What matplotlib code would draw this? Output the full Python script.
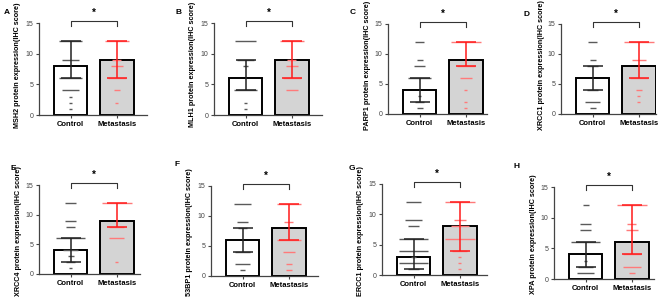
import matplotlib.pyplot as plt

plt.rcParams['font.family'] = ['Liberation Sans', 'DejaVu Sans']

# Data (IHC scores)
genes = ['MSH2', 'MLH1', 'PARP1', 'XRCC1', 'XRCC4', '53BP1', 'ERCC1', 'XPA']
letters = ['A', 'B', 'C', 'D', 'E', 'F', 'G', 'H']
groups = ['Control', 'Metastasis']

ctrl_median = [8, 6, 4, 6, 4, 6, 3, 4]
ctrl_low = [6, 4, 2, 4, 2, 4, 1, 2]
ctrl_high = [12, 9, 6, 8, 6, 8, 6, 6]
met_median = [9, 9, 9, 8, 9, 8, 8, 6]
met_low = [6, 6, 8, 6, 8, 6, 4, 4]
met_high = [12, 12, 12, 12, 12, 12, 12, 12]

# individual scores (unique value, how many samples share it)
ctrl_vals = [[12, 9, 6, 4, 3, 2, 1], [12, 9, 8, 4, 2, 1], [12, 9, 8, 6, 3, 2, 1],
             [12, 9, 8, 4, 2, 1], [12, 9, 8, 6, 4, 3, 2, 1], [12, 9, 8, 4, 2, 1],
             [12, 9, 8, 6, 4, 3, 2, 1], [12, 9, 8, 6, 3, 2, 1]]
ctrl_counts = [[8, 6, 8, 6, 1, 1, 1], [7, 6, 2, 8, 1, 1], [3, 2, 4, 8, 1, 3, 2],
               [3, 2, 4, 4, 5, 2], [4, 4, 3, 10, 5, 2, 3, 1], [6, 4, 3, 5, 5, 2],
               [5, 6, 4, 10, 10, 2, 10, 4], [2, 4, 4, 10, 1, 5, 6]]
met_vals = [[12, 9, 8, 6, 4, 2], [12, 9, 8, 6, 4], [12, 8, 6, 4, 2, 1],
            [12, 9, 6, 4, 3, 2], [12, 8, 6, 2], [12, 9, 6, 4, 2, 1],
            [12, 9, 8, 6, 4, 3, 2, 1], [12, 9, 8, 4, 2, 1]]
met_counts = [[8, 3, 4, 6, 2, 1], [8, 3, 4, 6, 4], [10, 6, 4, 1, 1, 1],
              [10, 5, 6, 2, 1, 1], [10, 5, 5, 1], [8, 3, 8, 4, 2, 2],
              [10, 4, 6, 10, 5, 1, 1, 1], [10, 3, 4, 6, 6, 2]]

# axes boxes in pixels: left, right, y of 0, y of 15
boxes = [(39, 147, 115, 23), (214, 322, 115, 23), (388, 487, 114, 24), (561, 656, 114, 24),
         (39, 140, 274, 185), (211, 318, 276, 186), (382, 487, 275, 184), (554, 654, 279, 187)]
letter_pos = [(7, 12), (178, 12), (353, 12), (526, 14),
              (13, 168), (177, 165), (352, 168), (517, 167)]

W, H = 669, 299
fig = plt.figure(figsize=(W / 100, H / 100), dpi=100)

ymax = 18.6
for i in range(8):
    l, r, y0, y15 = boxes[i]
    ppu = (y0 - y15) / 15.0
    top = y0 - ymax * ppu
    ax = fig.add_axes([l / W, (H - y0) / H, (r - l) / W, (y0 - top) / H])
    ax.set_ylim(0, ymax)
    xr = 1.65 + (r - l - 108) / 46.0
    ax.set_xlim(-0.68, xr)

    ax.bar([0, 1], [ctrl_median[i], met_median[i]], width=0.72,
           color=['white', '#d4d4d4'], edgecolor='black', linewidth=1.4, zorder=1)

    for xc, vals, cnts, col in [(0, ctrl_vals[i], ctrl_counts[i], '#5a5a5a'),
                                (1, met_vals[i], met_counts[i], '#ff7a7a')]:
        for v, c in zip(vals, cnts):
            hw = max(0.03, 0.032 * c)
            ax.hlines(v, xc - hw, xc + hw, color=col, linewidth=1.0, zorder=2)

    for xc, m, lo, hi, col in [(0, ctrl_median[i], ctrl_low[i], ctrl_high[i], '#222222'),
                               (1, met_median[i], met_low[i], met_high[i], '#ff1a1a')]:
        ax.errorbar(xc, m, yerr=[[m - lo], [hi - m]], fmt='none', ecolor=col,
                    elinewidth=1.1, capsize=7, capthick=1.1, zorder=3)

    # significance bracket
    ax.plot([0, 0, 1, 1], [14.5, 15.3, 15.3, 14.5], color='#333333', linewidth=0.8,
            clip_on=False)
    ax.text(0.5, 15.8, '*', ha='center', va='bottom', fontsize=7, fontweight='bold')

    ax.spines['top'].set_visible(False)
    ax.spines['right'].set_visible(False)
    ax.spines['left'].set_bounds(0, 15)
    for s in ['left', 'bottom']:
        ax.spines[s].set_color('#444444')
        ax.spines[s].set_linewidth(0.9)
    ax.set_yticks([0, 5, 10, 15])
    ax.set_xticks([0, 1])
    ax.set_xticklabels(groups, fontsize=5.5, fontweight='bold')
    ax.tick_params(axis='y', labelsize=5, length=2.5, width=0.8, pad=1.5, colors='#444444')
    ax.tick_params(axis='x', length=2, width=0.8, pad=2, colors='#444444')
    for t in ax.get_xticklabels():
        t.set_color('black')
    ax.set_ylabel(genes[i] + ' protein expression(IHC score)', fontsize=5.2,
                  fontweight='bold', labelpad=3)
    ax.yaxis.set_label_coords(-0.17, 0.44 if i < 4 else 0.39)

    lx, ly = letter_pos[i]
    fig.text(lx / W, 1 - ly / H, letters[i], fontsize=6, fontweight='bold',
             ha='center', va='center')

fig.savefig('out.png', dpi=100)
